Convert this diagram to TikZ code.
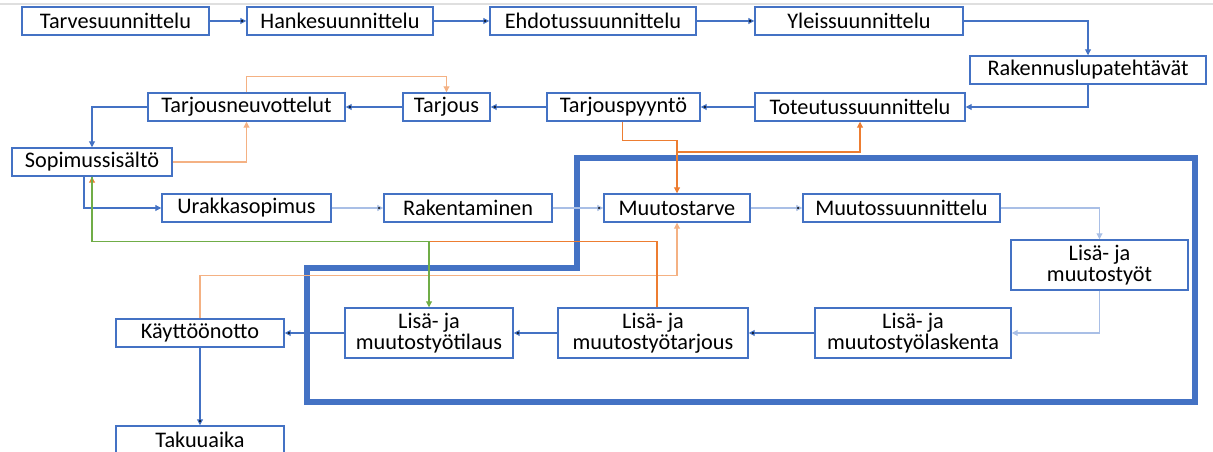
\documentclass[tikz,border=0pt]{standalone}
\usepackage{fontspec}
\setmainfont{Carlito}
\usetikzlibrary{positioning, arrows.meta}
\definecolor{boxblue}{HTML}{4472C4}
\definecolor{paleblue}{HTML}{A9BFE6}
\definecolor{orng}{HTML}{ED7D31}
\definecolor{paleorng}{HTML}{F4B183}
\definecolor{grn}{HTML}{70AD47}

\begin{document}
\begin{tikzpicture}[x=0.75pt, y=-0.75pt,
  box/.style={shape=rectangle, draw=boxblue, line width=1.1pt, fill=white,
    minimum height=21pt, inner sep=0pt, align=center,
    font=\fontsize{16.7}{15.5}\selectfont},
  tallbox/.style={box, minimum height=37.5pt},
  wd/.style={minimum width=#1*0.75pt},
  tip/.style={-{Triangle[length=4.5pt,width=4.5pt]}, line width=0.8pt},
  flow/.style={tip, draw=boxblue},
  paleflow/.style={tip, draw=paleblue},
  back/.style={tip, draw=orng},
  paleback/.style={tip, draw=paleorng},
  order/.style={tip, draw=grn}]
  \useasboundingbox (0,0) rectangle (1213,452);
  \draw[gray!25, line width=0.8pt] (0,4) -- (1213,4);

  % rajattu muutosalue
  \draw[boxblue, line width=4.5pt, line join=miter]
    (577,158) -- (1195,158) -- (1195,402) -- (307,402) -- (307,268) -- (577,268) -- cycle;

  \node[box, wd=187] (tarve) at (115.5,21) {Tarvesuunnittelu};
  \node[box, wd=186] (hanke) at (340,21) {Hankesuunnittelu};
  \path [flow] (tarve) edge (hanke);
  \node[box, wd=206] (ehdotus) at (593,21) {Ehdotussuunnittelu};
  \path [flow] (hanke) edge (ehdotus);
  \node[box, wd=208] (yleis) at (859,21) {Yleissuunnittelu};
  \path [flow] (ehdotus) edge (yleis);

  \node[box, wd=236] (lupa) at (1088,70) {Rakennuslupatehtävät};
  \draw [flow] (yleis.east) -| (lupa.north);

  \node[box, wd=210] (toteutus) at (860,107) {Toteutussuunnittelu};
  \draw [flow] (lupa.south) |- (toteutus.east);
  \node[box, wd=153] (pyynto) at (623.5,107) {Tarjouspyyntö};
  \path [flow] (toteutus) edge (pyynto);
  \node[box, wd=87] (tarjous) at (446.5,107) {Tarjous};
  \path [flow] (pyynto) edge (tarjous);
  \node[box, wd=197] (neuvot) at (246.5,107) {Tarjousneuvottelut};
  \path [flow] (tarjous) edge (neuvot);

  \node[box, wd=160] (sopimus) at (92,162) {Sopimussisältö};
  \draw [flow] (neuvot.west) -| (sopimus.north);
  \draw [paleback] (sopimus.east) -| (neuvot.south);
  \draw [paleback] (neuvot.north) -- ++(0,-16) -| (tarjous.north);

  \node[box, wd=169] (urakka) at (246.5,208) {Urakkasopimus};
  \draw [flow] ([xshift=-6pt]sopimus.south) |- (urakka.west);
  \node[box, wd=168] (rakent) at (468,208) {Rakentaminen};
  \path [paleflow] (urakka) edge (rakent);
  \node[box, wd=146] (tarve2) at (677,208) {Muutostarve};
  \path [paleflow] (rakent) edge (tarve2);
  \node[box, wd=197] (msuunn) at (901.5,208) {Muutossuunnittelu};
  \path [paleflow] (tarve2) edge (msuunn);

  \node[tallbox, wd=177] (mtyot) at (1099.5,265) {Lisä- ja\\muutostyöt};
  \draw [paleflow] (msuunn.east) -| (mtyot.north);

  \node[tallbox, wd=196] (laskenta) at (913,333) {Lisä- ja\\muutostyölaskenta};
  \draw [paleflow] (mtyot.south) |- (laskenta.east);
  \node[tallbox, wd=190] (mtarjous) at (653,333) {Lisä- ja\\muutostyötarjous};
  \path [flow] (laskenta) edge (mtarjous);
  \node[tallbox, wd=168] (tilaus) at (429,333) {Lisä- ja\\muutostyötilaus};
  \path [flow] (mtarjous) edge (tilaus);
  \node[box, wd=168] (kaytto) at (200,333) {Käyttöönotto};
  \path [flow] (tilaus) edge (kaytto);
  \node[box, wd=168] (takuu) at (200,440) {Takuuaika};
  \path [flow] (kaytto) edge (takuu);

  % palautteet
  \draw [back] ([xshift=-1pt]pyynto.south) -- ++(0,19) -| (tarve2.north);
  \coordinate (haara) at (677,152);
  \draw [back] (haara) -| (toteutus.south);
  \draw [paleback] (kaytto.north) -- ++(0,-43) -| (tarve2.south);
  \draw [back] ([xshift=3pt]mtarjous.north) -- ++(0,-66) -| (sopimus.south);
  \draw [order] (sopimus.south) -- ++(0,65) -| (tilaus.north);
\end{tikzpicture}
\end{document}
